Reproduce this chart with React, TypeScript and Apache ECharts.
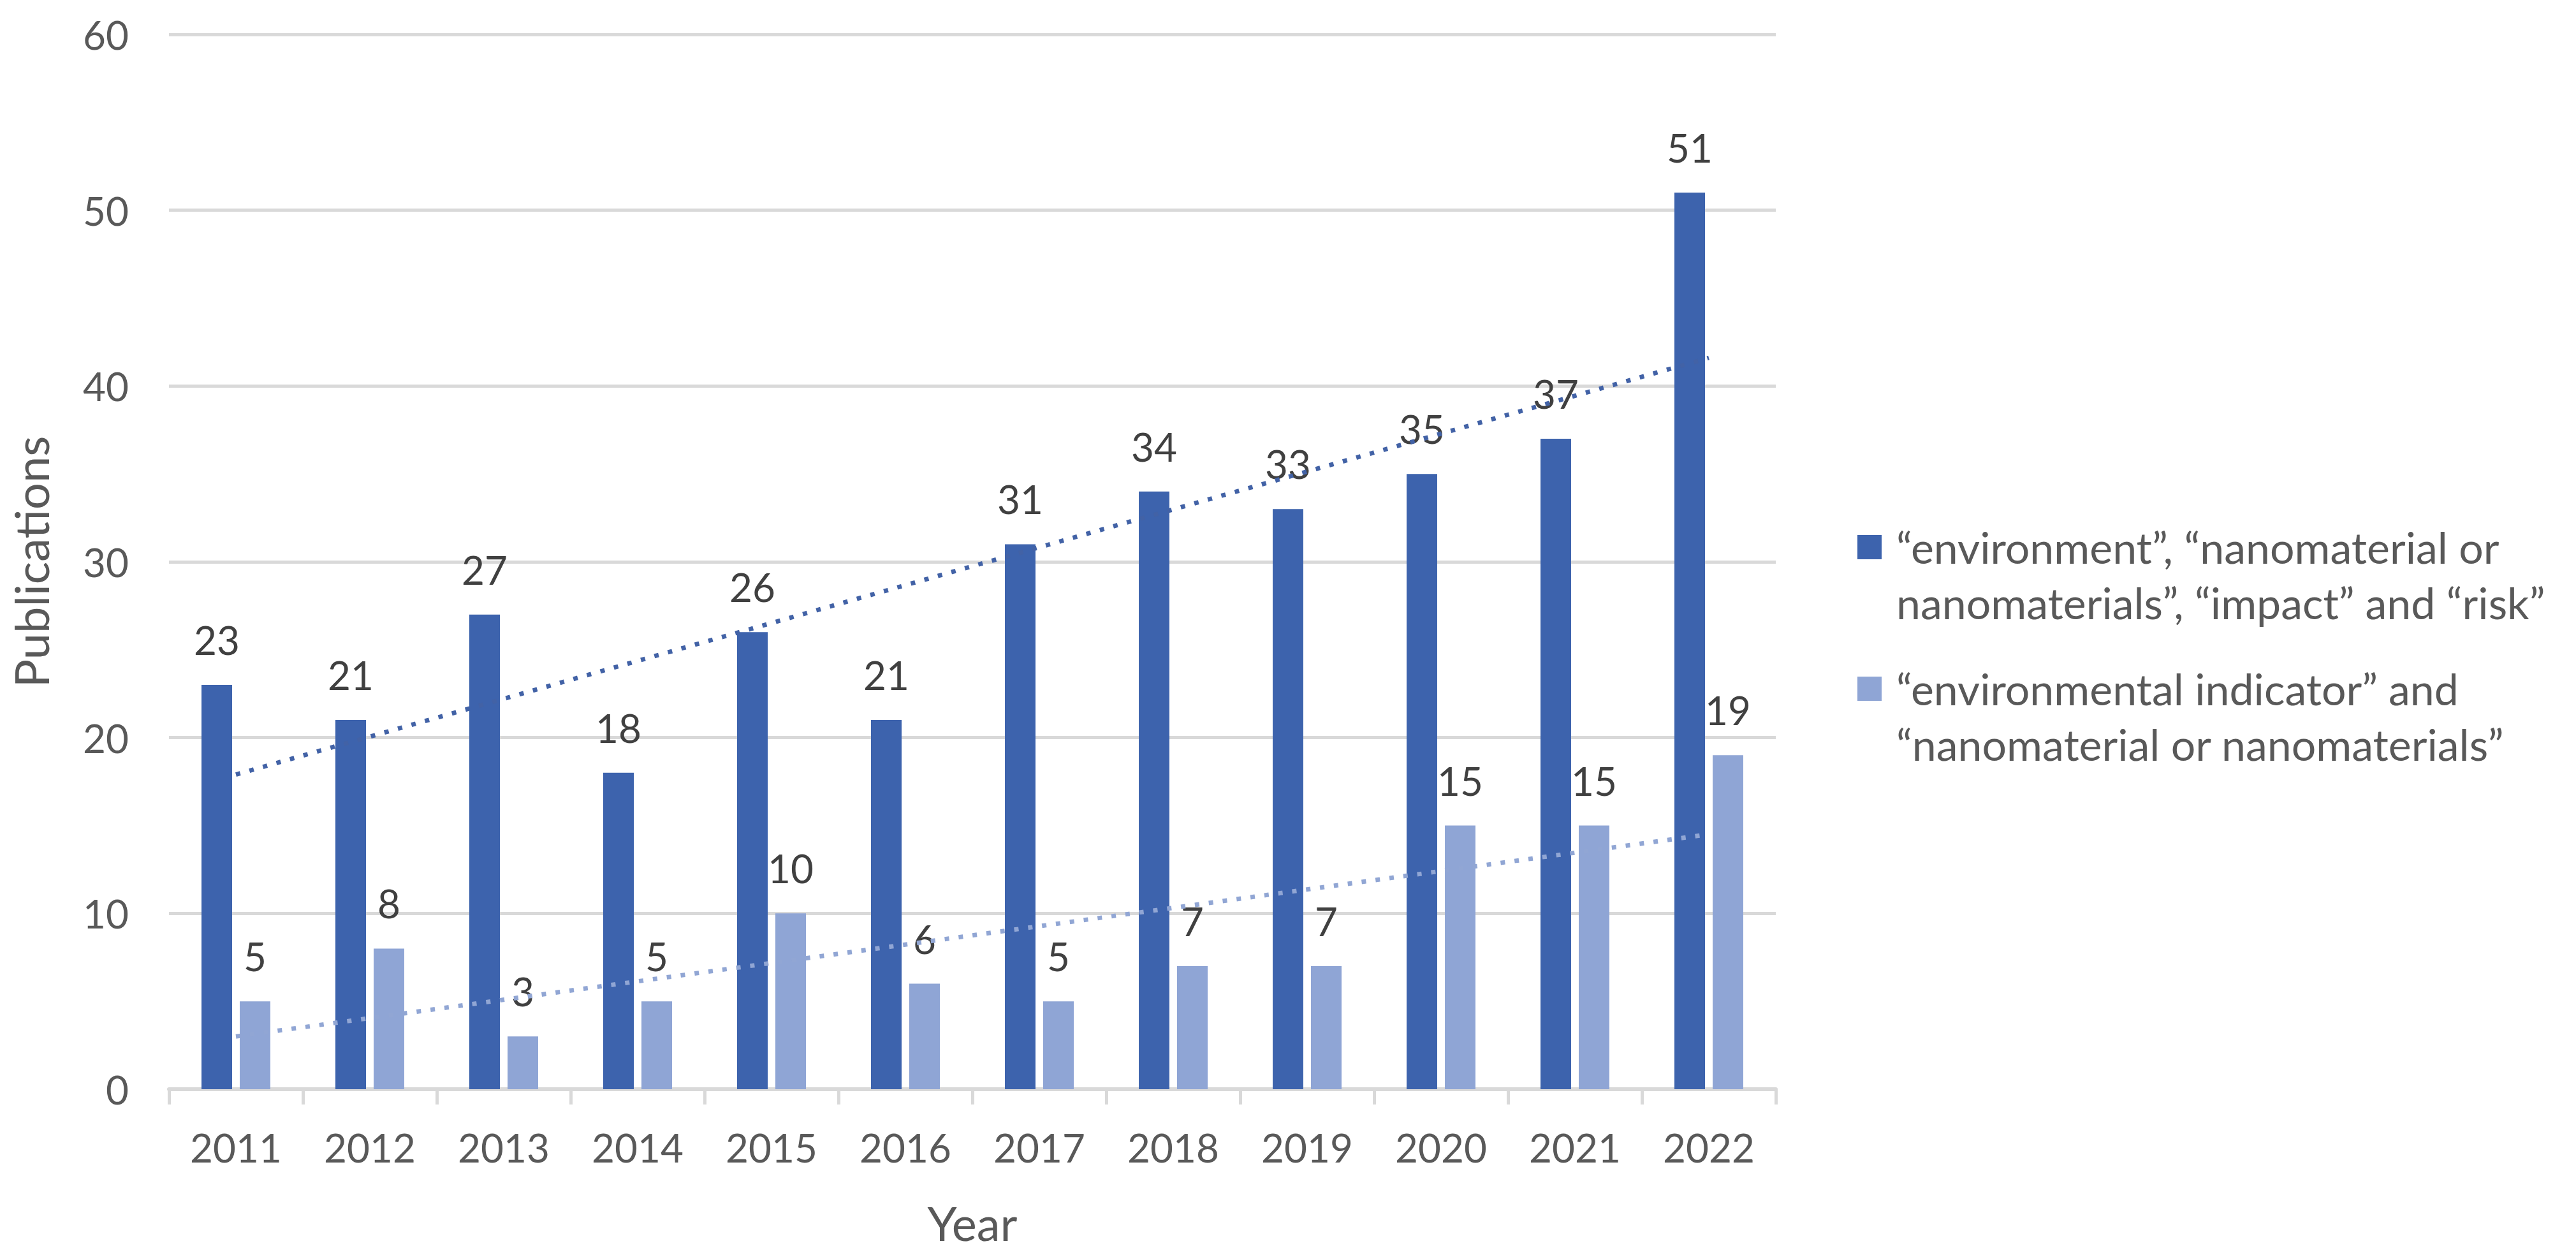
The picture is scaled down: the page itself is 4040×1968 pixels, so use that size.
import React, { useEffect, useRef } from "react";
import * as echarts from "echarts";

const years = ["2011", "2012", "2013", "2014", "2015", "2016", "2017", "2018", "2019", "2020", "2021", "2022"];
const seriesEnvRisk = [23, 21, 27, 18, 26, 21, 31, 34, 33, 35, 37, 51];
const seriesIndicator = [5, 8, 3, 5, 10, 6, 5, 7, 7, 15, 15, 19];
// linear trend lines, end points (first and last year)
const trendEnvRisk = [17.9, 41.6];
const trendIndicator = [3.0, 14.5];
const yTicks = { min: 0, max: 60, interval: 10 };

const nameEnvRisk = "“environment”, “nanomaterial or nanomaterials”, “impact” and “risk”";
const nameIndicator = "“environmental indicator” and “nanomaterial or nanomaterials”";
const legendEnvRisk = ["“environment”, “nanomaterial or", "nanomaterials”, “impact” and “risk”"];
const legendIndicator = ["“environmental indicator” and", "“nanomaterial or nanomaterials”"];

const DARK = "#3D63AD";
const LIGHT = "#8FA5D5";
const TREND_DARK = "#4262A6";
const TREND_LIGHT = "#91A6D4";
const FONT = "Lato";
const TEXT = "#595959";

function endPoints(pair: number[]) {
  return years.map((_, i) => (i === 0 ? pair[0] : i === years.length - 1 ? pair[1] : null));
}

export default function App() {
  const ref = useRef<HTMLDivElement>(null);
  useEffect(() => {
    if (!ref.current) return;
    const chart = echarts.init(ref.current, undefined, { renderer: "svg" });
    const labelStyle = {
      show: true,
      position: "top",
      distance: 40,
      fontFamily: FONT,
      fontSize: 62,
      color: "#404040",
    };
    chart.setOption({
      animation: false,
      backgroundColor: "#ffffff",
      textStyle: { fontFamily: FONT },
      grid: { left: 265, right: 1255, top: 54, bottom: 260, containLabel: false },
      xAxis: {
        type: "category",
        data: years,
        boundaryGap: true,
        axisLine: { show: true, lineStyle: { color: "#D9D9D9", width: 6 } },
        axisTick: { show: true, alignWithLabel: false, length: 24, lineStyle: { color: "#D9D9D9", width: 5 } },
        axisLabel: { fontFamily: FONT, fontSize: 62, color: TEXT, margin: 60 },
        name: "Year",
        nameLocation: "middle",
        nameGap: 172,
        nameTextStyle: { fontFamily: FONT, fontSize: 74, color: TEXT },
      },
      yAxis: {
        type: "value",
        min: yTicks.min,
        max: yTicks.max,
        interval: yTicks.interval,
        axisLine: { show: false },
        axisTick: { show: false },
        splitLine: { show: true, lineStyle: { color: "#D9D9D9", width: 5 } },
        axisLabel: { fontFamily: FONT, fontSize: 62, color: TEXT, margin: 63 },
        name: "Publications",
        nameLocation: "middle",
        nameGap: 180,
        nameTextStyle: { fontFamily: FONT, fontSize: 74, color: TEXT },
      },
      series: [
        {
          name: nameEnvRisk,
          type: "bar",
          data: seriesEnvRisk,
          barWidth: 48,
          barGap: "25%",
          itemStyle: { color: DARK },
          label: labelStyle,
        },
        {
          name: nameIndicator,
          type: "bar",
          data: seriesIndicator,
          barWidth: 48,
          barGap: "25%",
          itemStyle: { color: LIGHT },
          label: labelStyle,
        },
        {
          name: "Linear (" + nameEnvRisk + ")",
          type: "line",
          data: endPoints(trendEnvRisk),
          connectNulls: true,
          symbol: "none",
          z: 5,
          lineStyle: { color: TREND_DARK, width: 7, type: [7, 15], cap: "butt" },
        },
        {
          name: "Linear (" + nameIndicator + ")",
          type: "line",
          data: endPoints(trendIndicator),
          connectNulls: true,
          symbol: "none",
          z: 5,
          lineStyle: { color: TREND_LIGHT, width: 7, type: [7, 15], cap: "butt" },
        },
      ],
      graphic: [
        { type: "rect", shape: { x: 2913, y: 839, width: 38, height: 38 }, style: { fill: DARK } },
        {
          type: "text",
          x: 2974,
          y: 814,
          style: { text: legendEnvRisk.join("\n"), fontFamily: FONT, fontSize: 68, lineHeight: 87, fill: TEXT, verticalAlign: "top" },
        },
        { type: "rect", shape: { x: 2913, y: 1061, width: 38, height: 38 }, style: { fill: LIGHT } },
        {
          type: "text",
          x: 2974,
          y: 1036,
          style: { text: legendIndicator.join("\n"), fontFamily: FONT, fontSize: 68, lineHeight: 87, fill: TEXT, verticalAlign: "top" },
        },
      ],
    });
    return () => chart.dispose();
  }, []);
  return <div ref={ref} style={{ position: "fixed", left: 0, top: 0, width: "4040px", height: "1968px" }} />;
}
